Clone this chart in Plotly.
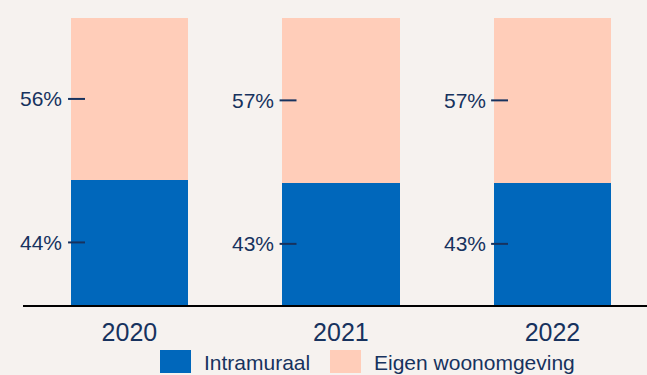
import plotly.graph_objects as go

# ---- data ----
years = ["2020", "2021", "2022"]
intramuraal = [43.6, 42.6, 42.6]
eigen_woonomgeving = [56.4, 57.4, 57.4]
series_names = ["Intramuraal", "Eigen woonomgeving"]

# ---- style ----
BLUE = "#0067bb"
PEACH = "#ffcdb9"
BG = "#f6f2ef"
NAVY = "#17325e"
FONT = "Liberation Sans, Arial, sans-serif"
W, H = 647, 375
ML, MR, MT, MB = 23, 0, 18, 70

x = list(range(len(years)))

fig = go.Figure()
fig.add_trace(go.Bar(x=x, y=intramuraal, name=series_names[0],
                     marker=dict(color=BLUE, line=dict(width=0)), showlegend=False))
fig.add_trace(go.Bar(x=x, y=eigen_woonomgeving, name=series_names[1],
                     marker=dict(color=PEACH, line=dict(width=0)), showlegend=False))

annotations = []
shapes = []
for i in x:
    segs = [(0, intramuraal[i]), (intramuraal[i], intramuraal[i] + eigen_woonomgeving[i])]
    for lo, hi in segs:
        mid = (lo + hi) / 2
        annotations.append(dict(x=i - 0.307, y=mid, xref="x", yref="y",
                                text=f"{round(hi - lo)}%", showarrow=False,
                                xanchor="right", yanchor="middle",
                                font=dict(family=FONT, size=21, color=NAVY)))
        shapes.append(dict(type="line", xref="x", yref="y",
                           x0=i - 0.29, x1=i - 0.21, y0=mid, y1=mid,
                           line=dict(color=NAVY, width=2), layer="above"))

# ---- custom legend (pixel -> paper helpers) ----
pw = W - ML - MR
ph = H - MT - MB
def px_x(p):
    return (p - ML) / pw
def px_y(p):
    return (H - MB - p) / ph

legend_items = [(series_names[0], BLUE, 160), (series_names[1], PEACH, 330)]
for name, col, left in legend_items:
    shapes.append(dict(type="rect", xref="paper", yref="paper",
                       x0=px_x(left), x1=px_x(left + 31),
                       y0=px_y(373), y1=px_y(350),
                       fillcolor=col, line=dict(width=0)))
    annotations.append(dict(x=px_x(left + 42), y=px_y(362), xref="paper", yref="paper",
                            text=name, showarrow=False, xanchor="left", yanchor="middle",
                            font=dict(family=FONT, size=21, color=NAVY)))

fig.update_layout(
    width=W, height=H,
    margin=dict(l=ML, r=MR, t=MT, b=MB, pad=0),
    paper_bgcolor=BG, plot_bgcolor=BG,
    barmode="stack", bargap=0.444,
    showlegend=False,
    annotations=annotations, shapes=shapes,
    font=dict(family=FONT, color=NAVY),
    xaxis=dict(range=[-0.503, 2.447], tickvals=x, ticktext=years,
               showline=True, linecolor="black", linewidth=2,
               showgrid=False, zeroline=False,
               ticks="outside", ticklen=4, tickcolor="rgba(0,0,0,0)",
               tickfont=dict(family=FONT, size=25, color=NAVY)),
    yaxis=dict(range=[0, 100], visible=False, showgrid=False, zeroline=False),
)

fig.write_html("out.html")
